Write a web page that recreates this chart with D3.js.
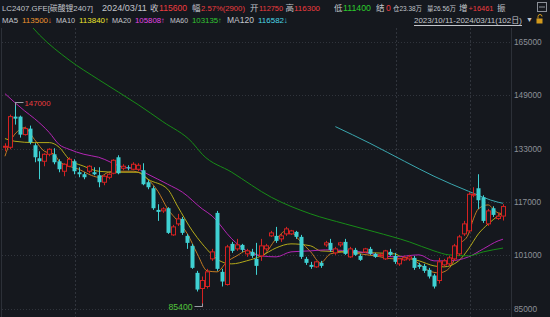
<!DOCTYPE html>
<html>
<head>
<meta charset="utf-8">
<script src="https://cdn.jsdelivr.net/npm/d3@7"></script>
<style>
  body { margin: 0; background: #15181e; }
  svg { display: block; }
  text { font-family: "Liberation Sans", Arial, "Noto Sans CJK SC", sans-serif; }
</style>
</head>
<body>
<svg id="chart" width="550" height="317"></svg>
<script>
//begin: data (LC2407 daily, 2023/10/11 - 2024/03/11, 102 days)
var opens = [133400,133400,142600,142600,137200,139000,134000,130100,129200,131300,
  131300,129200,126200,127700,129200,125900,125300,126200,125900,125000,
  122900,124400,125600,130400,127100,127400,126800,126800,126500,122900,
  121100,114600,114300,115100,107100,110400,111900,106800,103800,95700,
  91000,91600,99900,113700,96000,92200,104400,102900,104100,101400,
  102000,99900,100800,102900,106800,106800,105900,107400,107400,108000,
  106500,99900,98100,97500,98700,104100,104700,101700,104100,105000,
  100500,102600,100800,102000,102900,101400,100800,99900,102000,100800,
  98400,99600,99900,100200,98100,97800,96600,94900,93400,98100,
  98400,99900,101400,107400,108300,119000,121100,118400,110400,115100,
  112000,112750];
var highs = [134600,143200,147000,142900,139600,139900,134600,132200,131600,133100,
  133100,129800,128600,130400,129800,127400,125900,128000,127400,127400,
  125000,125600,129800,131000,128300,128000,128900,128600,128600,123500,
  121700,116300,115400,115400,110100,113400,112500,107400,104400,96300,
  94600,96900,102900,114300,96900,104100,105000,105900,104400,102900,
  102900,104700,105900,104400,108300,109500,107400,109500,108600,108300,
  107100,100500,99000,99300,99300,105300,105900,103500,105000,105900,
  103500,103200,101400,103200,103500,101700,101700,102600,102900,101700,
  100200,100800,101100,100800,98700,98400,97200,95400,100200,99900,
  100800,104400,107100,111300,119900,121400,125300,119000,114900,115700,
  113700,116300];
var lows = [132200,132800,140200,136300,136900,134300,128900,123800,127700,130700,
  128300,125900,124700,127400,125300,124400,123800,125600,125000,121400,
  122000,123800,125300,125300,126500,126500,126500,126200,122000,120800,
  114600,111300,113700,107400,106800,109800,107100,102900,96900,90100,
  85400,91000,99300,96300,91600,91900,101700,102300,102000,100500,
  100200,95100,99300,102300,106500,104700,105000,106800,107100,105900,
  99900,98100,96900,97200,97200,103500,102000,101100,103500,101100,
  100200,100800,99300,101700,101100,100200,100500,99600,100800,98400,
  97800,99300,99300,96600,96900,95700,94000,91000,92500,97500,
  97800,99300,100800,106800,107700,118400,114900,110700,109800,112500,
  111600,111400];
var closes = [133700,142600,142000,137200,139000,134900,130400,129200,131300,132800,
  128900,126800,128300,129800,126200,125300,124400,127700,125300,122900,
  124700,125300,129500,125600,127700,127100,128300,128000,122300,121400,
  115100,114000,114900,107700,109500,111900,107700,104700,97200,90700,
  93400,96000,102000,96900,93100,103500,102300,104100,102600,102300,
  100800,97800,103800,103800,107700,105300,106800,108900,108300,106500,
  100500,98700,97500,99000,97800,104700,102600,102900,104700,101400,
  102900,101100,99600,102900,101400,100500,101100,102300,101100,99000,
  99900,100200,100500,97200,97500,96300,94600,91600,99000,99300,
  100200,103800,106500,110400,119300,119300,117500,111300,114300,113100,
  112700,115600];

// moving averages: [day index, value]
var ma5 = [[0,130700],[1,134800],[3,138700],[4,139300],[6,135700],[8,132200],[10,131300],[11,129200],
  [13,127700],[15,126800],[17,125300],[19,124400],[21,125900],[23,126200],[26,126200],[29,123800],
  [31,120200],[33,114900],[35,111300],[37,107400],[39,101400],[41,96300],[43,96000],[45,99000],
  [47,100800],[49,102300],[52,100800],[55,105900],[57,108300],[58,108000],[60,105000],[62,102000],
  [64,98700],[66,101400],[69,102000],[72,101400],[75,100800],[79,99900],[82,100200],[84,98400],
  [86,96300],[88,95700],[89,96000],[91,99300],[92,103500],[94,107400],[95,111900],[96,114900],
  [98,116100],[99,114900],[100,113700],[101,113500]];
var ma10 = [[0,136000],[2,135200],[6,134800],[9,134800],[11,133400],[13,129800],[16,127700],[19,126200],
  [23,125900],[27,125900],[29,123800],[33,120800],[35,115700],[38,108300],[40,104400],[44,99000],
  [46,98400],[49,99300],[52,100800],[55,103200],[58,104400],[62,103800],[64,102300],[69,102000],
  [75,101700],[79,101400],[80,100800],[84,99300],[87,97800],[89,97500],[92,99300],[94,102900],
  [96,107400],[98,110400],[100,112800],[101,113840]];
var ma20 = [[0,149500],[4,144300],[6,142000],[9,137800],[11,134200],[13,132800],[16,131300],[19,130400],
  [24,127400],[27,126800],[29,125300],[33,122300],[36,119900],[40,114900],[42,112800],[46,105900],
  [49,102300],[52,100800],[55,100500],[58,102000],[62,102300],[65,102600],[72,102000],[79,100500],
  [84,101100],[87,99300],[90,99300],[94,100500],[97,102900],[100,105300],[101,105808]];
var ma60 = [[0,178000],[4,172000],[7,167100],[13,159600],[19,153700],[27,146200],[32,141100],[38,134800],
  [40,131300],[46,125900],[54,118400],[62,113400],[69,110400],[75,108000],[82,105000],[87,102300],
  [90,101100],[94,100800],[97,102000],[101,103135]];
var ma120 = [[67,139600],[74,134600],[81,129200],[87,124700],[94,120200],[100,116900],[101,116582]];

var priceTicks = [165000, 149000, 133000, 117000, 101000, 85000];
var monthStartDays = [15, 80, 95];   // 11/01, 02/01, 03/01
var highMark = { day: 2, value: 147000 };
var lowMark = { day: 40, value: 85400 };
//end: data

//begin: drawing conf.
var W = 550, H = 317;
var bg = "#15181e", grey = "#c2c5cb", axisGrey = "#8c9098";
var upColor = "#d42222", downColor = "#3fd0d2";
var red = "#ee3c3e", green = "#2cca2c";
var maConf = [
  { name: "MA5",   data: ma5,   line: "#c27a22", text: "#ea942e", last: "113500\u2193" },
  { name: "MA10",  data: ma10,  line: "#b4aa1a", text: "#eae42c", last: "113840\u2191" },
  { name: "MA20",  data: ma20,  line: "#b325b3", text: "#e446e4", last: "105808\u2191" },
  { name: "MA60",  data: ma60,  line: "#178c17", text: "#32c432", last: "103135\u2191" },
  { name: "MA120", data: ma120, line: "#3aa6ae", text: "#4ad4e4", last: "116582\u2193" }
];
//end: drawing conf.

// text helper: pick the font size that makes a label as wide as in the quote bar
function label(g, x0, y0, str, color, width, size) {
  var t = g.append("text").attr("x", x0).attr("y", y0)
    .attr("fill", color).style("font-size", size + "px").text(str);
  if (width) {
    var len = t.node().getComputedTextLength();
    t.style("font-size", (size * width / len).toFixed(2) + "px");
  }
  return t;
}

var svg = d3.select("#chart");
svg.append("rect").attr("width", W).attr("height", H).attr("fill", bg);

var n = closes.length;
var x = d3.scaleBand().domain(d3.range(n)).range([2.5, 505.5]);
var cx = function (i) { return x(i) + x.bandwidth() / 2; };
var y = d3.scaleLinear().domain([85000, 165000]).range([308.5, 42]);

// frame
svg.append("line").attr("x1", 1.5).attr("x2", 1.5).attr("y1", 28).attr("y2", H)
  .attr("stroke", "#2c3038");
svg.append("line").attr("x1", 511.5).attr("x2", 511.5).attr("y1", 28).attr("y2", H)
  .attr("stroke", "#2c3038");

// grid
var grid = svg.append("g");
grid.selectAll(".hg").data(priceTicks).enter().append("line")
  .attr("x1", 2).attr("x2", 511)
  .attr("y1", function (d) { return Math.round(y(d)) + 0.5; })
  .attr("y2", function (d) { return Math.round(y(d)) + 0.5; })
  .attr("stroke", "#30343c").attr("stroke-dasharray", "1,2");
grid.selectAll(".vg").data(monthStartDays).enter().append("line")
  .attr("x1", function (d) { return Math.round(x(d)) - 0.5; })
  .attr("x2", function (d) { return Math.round(x(d)) - 0.5; })
  .attr("y1", 28).attr("y2", H)
  .attr("stroke", "#30343c").attr("stroke-dasharray", "2,2");

// y axis labels
var yAxis = d3.axisRight(y).tickValues(priceTicks).tickSize(0).tickPadding(0)
  .tickFormat(d3.format("d"));
var ya = svg.append("g").attr("transform", "translate(514,0)").call(yAxis);
ya.select(".domain").remove();
ya.selectAll("text").attr("fill", axisGrey).style("font-size", "8.3px");

// clip for plot
svg.append("clipPath").attr("id", "plot")
  .append("rect").attr("x", 2).attr("y", 28).attr("width", 509).attr("height", H - 28);
var plot = svg.append("g").attr("clip-path", "url(#plot)");

// MA lines
var maLine = d3.line()
  .x(function (d) { return cx(d[0]); })
  .y(function (d) { return y(d[1]); })
  .curve(d3.curveMonotoneX);
plot.selectAll(".ma").data(maConf).enter().append("path")
  .attr("fill", "none")
  .attr("stroke", function (d) { return d.line; })
  .attr("stroke-width", 1)
  .attr("d", function (d) { return maLine(d.data); });

// candles
var candles = plot.selectAll(".candle").data(d3.range(n)).enter().append("g");
candles.append("line")
  .attr("x1", function (i) { return Math.round(cx(i)) + 0.5; })
  .attr("x2", function (i) { return Math.round(cx(i)) + 0.5; })
  .attr("y1", function (i) { return y(highs[i]); })
  .attr("y2", function (i) { return y(lows[i]); })
  .attr("stroke", function (i) { return closes[i] >= opens[i] ? upColor : downColor; });
candles.append("rect")
  .attr("x", function (i) { return Math.round(cx(i)) - 1.5; })
  .attr("width", 4)
  .attr("y", function (i) { return y(Math.max(opens[i], closes[i])); })
  .attr("height", function (i) {
    return Math.max(1, y(Math.min(opens[i], closes[i])) - y(Math.max(opens[i], closes[i])));
  })
  .attr("fill", function (i) { return closes[i] >= opens[i] ? bg : downColor; })
  .attr("stroke", function (i) { return closes[i] >= opens[i] ? upColor : downColor; })
  .attr("stroke-width", function (i) { return closes[i] >= opens[i] ? 1 : 0; });

// high / low markers
var hx = Math.round(cx(highMark.day)) + 0.5, hy = Math.round(y(highMark.value)) + 0.5;
svg.append("path").attr("d", "M" + hx + "," + (hy + 3) + "V" + hy + "H" + (hx + 8))
  .attr("fill", "none").attr("stroke", "#9a9ea6");
label(svg, hx + 9, hy + 3.5, highMark.value, red, 26, 9);
var lx = Math.round(cx(lowMark.day)) + 0.5, ly = Math.round(y(lowMark.value)) - 0.5;
svg.append("path").attr("d", "M" + lx + "," + (ly - 3) + "V" + ly + "H" + (lx - 8))
  .attr("fill", "none").attr("stroke", "#9a9ea6");
label(svg, lx - 34, ly + 3.5, lowMark.value, "#52c43c", 24, 9);

// header line 1: [x, text, colour, width]
var row1 = [
  [2, "LC2407.GFE[碳酸锂2407]", grey, 91], [102, "2024/03/11", grey, 45],
  [150, "收", grey, 0], [159, "115600", red, 28],
  [192, "幅", grey, 0], [201, "2.57%(2900)", red, 44],
  [250, "开", grey, 0], [259, "112750", red, 24],
  [285.5, "高", grey, 0], [294, "116300", red, 26],
  [334, "低", grey, 0], [343, "111400", green, 28],
  [376, "结", grey, 0], [386, "0", red, 0],
  [393, "仓23.38万", grey, 29], [427, "量26.56万", grey, 29],
  [459, "增", grey, 0], [468.5, "+16461", red, 25], [497, "振", grey, 0]
];
var head = svg.append("g");
row1.forEach(function (d) { label(head, d[0], 11, d[1], d[2], d[3], 8.5); });

// header line 2: MA legend
var legX = [2, 56, 112, 170, 227];
var nameW = [16, 19, 19, 18, 27];
maConf.forEach(function (d, i) {
  label(head, legX[i], 23, d.name, grey, nameW[i], 9);
  label(head, legX[i] + nameW[i] + 4, 23, d.last, d.text, 30, 9);
});

// date range, arrow, lock, corner icon
label(head, 414, 23, "2023/10/11-2024/03/11(102日)", grey, 108, 9);
svg.append("line").attr("x1", 414).attr("x2", 522).attr("y1", 25.5).attr("y2", 25.5)
  .attr("stroke", grey);
label(head, 526, 22, "▼", grey, 0, 7);
svg.append("rect").attr("x", 536.5).attr("y", 18.5).attr("width", 6).attr("height", 5)
  .attr("fill", "#d39a1c");
svg.append("path").attr("d", "M538,18.5 v-2 a2,2 0 0 1 4,0").attr("fill", "none")
  .attr("stroke", "#d39a1c");
svg.append("rect").attr("x", 537.5).attr("y", 2.5).attr("width", 9).attr("height", 9)
  .attr("fill", "none").attr("stroke", "#8c9098");
svg.append("line").attr("x1", 539).attr("x2", 545).attr("y1", 7).attr("y2", 7)
  .attr("stroke", "#8c9098");
</script>
</body>
</html>
